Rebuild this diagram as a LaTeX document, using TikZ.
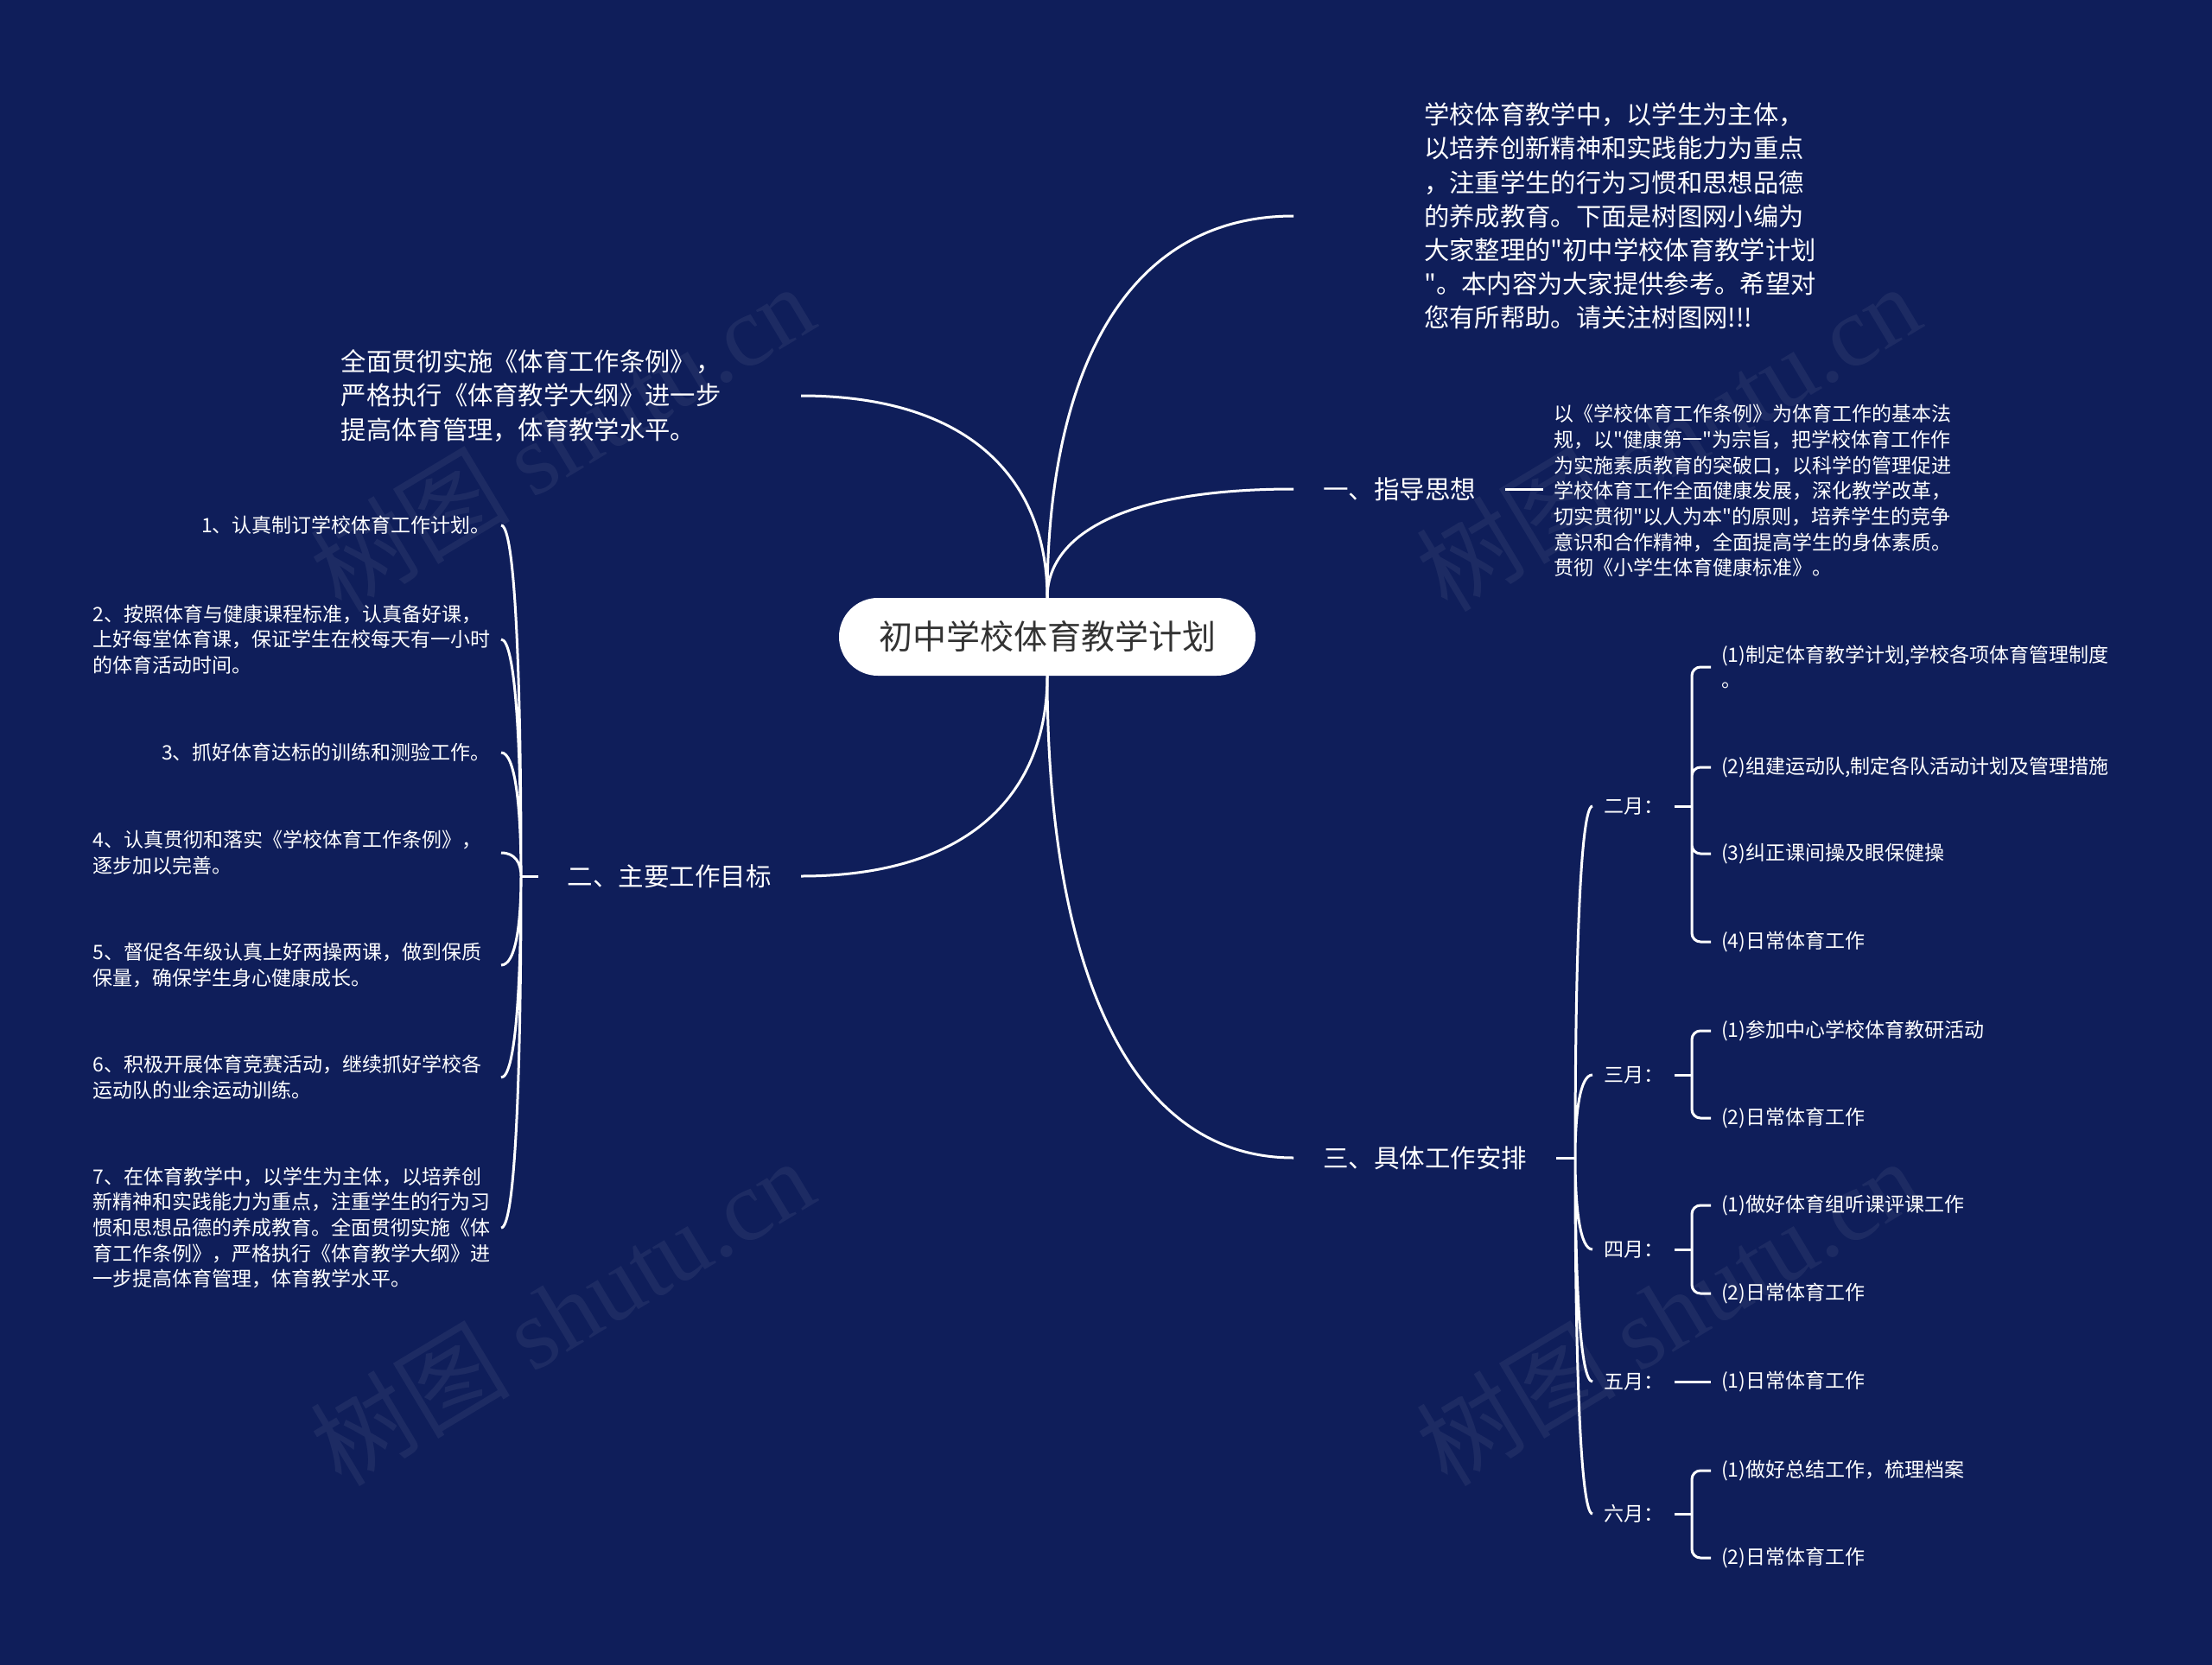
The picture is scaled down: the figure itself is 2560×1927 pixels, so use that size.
\documentclass[tikz,border=0pt]{standalone}
\usepackage{fontspec}
\setmainfont{Noto Sans CJK SC}[Ligatures=TeXOff]
\newfontfamily\wmserif{Liberation Serif}
\usetikzlibrary{calc,positioning}
\definecolor{mapnavy}{RGB}{15,30,90}
\definecolor{rootgray}{RGB}{51,51,51}
\tikzset{
    % Central topic (white pill)
    rootnode/.style={
        rectangle, rounded corners=45pt, fill=white, text=rootgray,
        minimum width=482pt, minimum height=90pt, inner sep=0pt,
        font=\fontsize{39}{47}\selectfont
    },
    % First level topics
    topic/.style={
        text=white, inner xsep=34pt, inner ysep=0pt,
        font=\fontsize{29.5}{39}\selectfont
    },
    % Large text blocks
    bigtext/.style={
        text=white, inner sep=0pt, align=left,
        font=\fontsize{29.3}{39.2}\selectfont
    },
    % Small text blocks and leaves
    smalltext/.style={
        text=white, inner xsep=12pt, inner ysep=0pt, align=left,
        font=\fontsize{23}{29.7}\selectfont
    },
    month/.style={smalltext, inner xsep=13pt},
    leaf/.style={smalltext},
    % Faint site watermark
    wmark/.style={
        text=white, opacity=0.06, rotate=31,
        font=\fontsize{116}{120}\selectfont
    },
}
\begin{document}
\begin{tikzpicture}[x=1pt,y=-1pt,
   link/.style={draw=white,line width=3pt},
   branch/.style={to path={.. controls ($(\tikztostart)!0.57!(\tikztostart |- \tikztotarget)$)
       and ($(\tikztostart |- \tikztotarget)!0.3!(\tikztotarget)$) .. (\tikztotarget)}}]
  \useasboundingbox (0,0) rectangle (2560,1927);
  \fill[mapnavy] (0,0) rectangle (2560,1927);
  % watermarks
  \node[wmark] (wm1) at (650,506) {树图 {\wmserif shutu.cn}};
  \node[wmark] (wm2) at (1930,506) {树图 {\wmserif shutu.cn}};
  \node[wmark] (wm3) at (650,1518) {树图 {\wmserif shutu.cn}};
  \node[wmark] (wm4) at (1930,1518) {树图 {\wmserif shutu.cn}};

  \node[rootnode] (root) at (1212,737) {初中学校体育教学计划};

  % right side
  \node[bigtext,anchor=west] (intro) at (1648,250)
    {学校体育教学中，以学生为主体，\\以培养创新精神和实践能力为重点\\，注重学生的行为习惯和思想品德\\的养成教育。下面是树图网小编为\\大家整理的"初中学校体育教学计划\\"。本内容为大家提供参考。希望对\\您有所帮助。请关注树图网!!!};
  \coordinate[left=151pt of intro.west] (introtip);
  \draw[link] (root.north) to[branch] (introtip);

  \node[topic,anchor=west] (guide) at (1497,566) {一、指导思想};
  \node[smalltext,anchor=west] (guidetext) at (1786,568)
    {以《学校体育工作条例》为体育工作的基本法\\规，以"健康第一"为宗旨，把学校体育工作作\\为实施素质教育的突破口，以科学的管理促进\\学校体育工作全面健康发展，深化教学改革，\\切实贯彻"以人为本"的原则，培养学生的竞争\\意识和合作精神，全面提高学生的身体素质。\\贯彻《小学生体育健康标准》。};
  \draw[link] (root.north) to[branch] (guide.west);
  \draw[link] (guide.east) -- (guide.east -| guidetext.west);

  \node[topic,anchor=west] (plan) at (1497,1340) {三、具体工作安排};
  \coordinate (planjn) at (1823,1340);
  \draw[link] (root.south) to[branch] (plan.west);
  \draw[link] (plan.east) -- (planjn);

  \node[month,anchor=west] (feb) at (1843,933) {二月：};
  \node[month,anchor=west] (mar) at (1843,1244) {三月：};
  \node[month,anchor=west] (apr) at (1843,1446) {四月：};
  \node[month,anchor=west] (may) at (1843,1599) {五月：};
  \node[month,anchor=west] (jun) at (1843,1752) {六月：};
  \draw[link] (planjn) to[branch] (feb.west) (planjn) to[branch] (mar.west)
    (planjn) to[branch] (apr.west) (planjn) to[branch] (may.west)
    (planjn) to[branch] (jun.west);

  \coordinate (febjn) at (1958,933);
  \coordinate (marjn) at (1958,1244);
  \coordinate (aprjn) at (1958,1446);
  \coordinate (junjn) at (1958,1752);
  \draw[link] (feb.east) -- (febjn) (mar.east) -- (marjn)
    (apr.east) -- (aprjn) (jun.east) -- (junjn);

  \node[leaf,anchor=west] (feb1) at (1980,772) {(1)制定体育教学计划,学校各项体育管理制度\\。};
  \node[leaf,anchor=west] (feb2) at (1980,888) {(2)组建运动队,制定各队活动计划及管理措施};
  \node[leaf,anchor=west] (feb3) at (1980,988) {(3)纠正课间操及眼保健操};
  \node[leaf,anchor=west] (feb4) at (1980,1090) {(4)日常体育工作};
  \node[leaf,anchor=west] (mar1) at (1980,1193) {(1)参加中心学校体育教研活动};
  \node[leaf,anchor=west] (mar2) at (1980,1294) {(2)日常体育工作};
  \node[leaf,anchor=west] (apr1) at (1980,1395) {(1)做好体育组听课评课工作};
  \node[leaf,anchor=west] (apr2) at (1980,1497) {(2)日常体育工作};
  \node[leaf,anchor=west] (may1) at (1980,1599) {(1)日常体育工作};
  \node[leaf,anchor=west] (jun1) at (1980,1702) {(1)做好总结工作，梳理档案};
  \node[leaf,anchor=west] (jun2) at (1980,1803) {(2)日常体育工作};
  \draw[link,rounded corners=10pt] (febjn) |- (feb1.west) (febjn) |- (feb2.west)
    (febjn) |- (feb3.west) (febjn) |- (feb4.west)
    (marjn) |- (mar1.west) (marjn) |- (mar2.west)
    (aprjn) |- (apr1.west) (aprjn) |- (apr2.west)
    (junjn) |- (jun1.west) (junjn) |- (jun2.west);
  \draw[link] (may.east) -- (may1.west);

  % left side
  \node[bigtext,text width=498pt,inner xsep=34pt,anchor=east] (goal) at (927,458)
    {全面贯彻实施《体育工作条例》，\\严格执行《体育教学大纲》进一步\\提高体育管理，体育教学水平。};
  \draw[link] (root.north) to[branch] (goal.east);

  \node[topic,anchor=east] (aims) at (927,1014) {二、主要工作目标};
  \coordinate (aimsjn) at (603,1014);
  \draw[link] (root.south) to[branch] (aims.east);
  \draw[link] (aims.west) -- (aimsjn);

  \node[smalltext,anchor=east] (aim1) at (580,608) {1、认真制订学校体育工作计划。};
  \node[smalltext,text width=460pt,anchor=east] (aim2) at (580,740)
    {2、按照体育与健康课程标准，认真备好课，\\上好每堂体育课，保证学生在校每天有一小时\\的体育活动时间。};
  \node[smalltext,anchor=east] (aim3) at (580,871) {3、抓好体育达标的训练和测验工作。};
  \node[smalltext,text width=460pt,anchor=east] (aim4) at (580,987)
    {4、认真贯彻和落实《学校体育工作条例》，\\逐步加以完善。};
  \node[smalltext,text width=460pt,anchor=east] (aim5) at (580,1117)
    {5、督促各年级认真上好两操两课，做到保质\\保量，确保学生身心健康成长。};
  \node[smalltext,text width=460pt,anchor=east] (aim6) at (580,1247)
    {6、积极开展体育竞赛活动，继续抓好学校各\\运动队的业余运动训练。};
  \node[smalltext,text width=460pt,anchor=east] (aim7) at (580,1421)
    {7、在体育教学中，以学生为主体，以培养创\\新精神和实践能力为重点，注重学生的行为习\\惯和思想品德的养成教育。全面贯彻实施《体\\育工作条例》，严格执行《体育教学大纲》进\\一步提高体育管理，体育教学水平。};
  \draw[link] (aimsjn) to[branch] (aim1.east) (aimsjn) to[branch] (aim2.east)
    (aimsjn) to[branch] (aim3.east) (aimsjn) to[branch] (aim4.east)
    (aimsjn) to[branch] (aim5.east) (aimsjn) to[branch] (aim6.east)
    (aimsjn) to[branch] (aim7.east);
\end{tikzpicture}
\end{document}
